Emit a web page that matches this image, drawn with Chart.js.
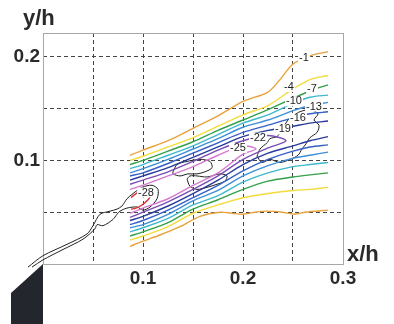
<!DOCTYPE html>
<html>
<head>
<meta charset="utf-8">
<script src="https://cdn.jsdelivr.net/npm/chart.js@4.4.1/dist/chart.umd.min.js"></script>
<style>
  html, body { margin: 0; padding: 0; background: #fff; }
  #wrap { width: 394px; height: 324px; }
</style>
</head>
<body>
<div id="wrap"><canvas id="c" width="394" height="324"></canvas></div>
<script>
// Contour lines of a jet field, x/h vs y/h. Levels -1 ... -28 (step 3).

// ---- Data ---------------------------------------------------------------

const XS = [0.087, 0.100, 0.125, 0.150, 0.175, 0.200, 0.225, 0.250, 0.267, 0.285];

// upper branch of each level, one value per XS station
const UP_4  = [0.100, 0.104, 0.113, 0.122, 0.133, 0.144, 0.153, 0.169, 0.178, 0.182];
const UP_7  = [0.096, 0.100, 0.109, 0.118, 0.129, 0.139, 0.149, 0.160, 0.167, 0.173];
const UP_10 = [0.092, 0.096, 0.105, 0.114, 0.125, 0.136, 0.144, 0.155, 0.161, 0.163];
const UP_13 = [0.088, 0.092, 0.101, 0.111, 0.121, 0.132, 0.139, 0.148, 0.153, 0.156];
const UP_16 = [0.085, 0.088, 0.097, 0.107, 0.117, 0.127, 0.134, 0.141, 0.145, 0.147];
const UP_19 = [0.081, 0.085, 0.093, 0.103, 0.113, 0.123, 0.129, 0.133, 0.136, 0.138];

// lower branch
const LO_4  = [0.023, 0.027, 0.036, 0.049, 0.057, 0.064, 0.068, 0.071, 0.072, 0.074];
const LO_7  = [0.027, 0.031, 0.040, 0.053, 0.062, 0.072, 0.080, 0.084, 0.086, 0.088];
const LO_10 = [0.031, 0.035, 0.044, 0.057, 0.066, 0.079, 0.088, 0.094, 0.096, 0.098];
const LO_13 = [0.035, 0.038, 0.048, 0.061, 0.071, 0.085, 0.095, 0.102, 0.105, 0.108];
const LO_16 = [0.038, 0.042, 0.052, 0.064, 0.076, 0.090, 0.101, 0.109, 0.113, 0.115];
const LO_19 = [0.042, 0.046, 0.056, 0.068, 0.081, 0.096, 0.107, 0.114, 0.119, 0.123];

// level -1 (orange), own stations
const L1_UP_X = [0.087, 0.100, 0.125, 0.150, 0.175, 0.200, 0.225, 0.237, 0.250, 0.267, 0.285];
const L1_UP_Y = [0.105, 0.110, 0.119, 0.131, 0.143, 0.157, 0.166, 0.178, 0.193, 0.201, 0.205];
const L1_LO_X = [0.087, 0.100, 0.117, 0.137, 0.157, 0.177, 0.189, 0.200, 0.212, 0.224, 0.239, 0.252, 0.262, 0.285];
const L1_LO_Y = [0.017, 0.022, 0.028, 0.036, 0.046, 0.050, 0.049, 0.048, 0.050, 0.051, 0.050, 0.048, 0.050, 0.052];

// closed levels
const L22_X = [0.087, 0.100, 0.125, 0.150, 0.175, 0.200, 0.225, 0.243, 0.225, 0.200, 0.175, 0.150, 0.125, 0.100, 0.087];
const L22_Y = [0.077, 0.081, 0.089, 0.099, 0.110, 0.119, 0.124, 0.119, 0.112, 0.101, 0.085, 0.072, 0.060, 0.050, 0.045];
const L25_X = [0.087, 0.100, 0.125, 0.150, 0.175, 0.200, 0.213, 0.200, 0.175, 0.150, 0.125, 0.100, 0.087];
const L25_Y = [0.072, 0.076, 0.085, 0.094, 0.105, 0.114, 0.111, 0.106, 0.088, 0.076, 0.063, 0.054, 0.049];
const L28_X = [0.088, 0.093, 0.099, 0.105, 0.108, 0.105, 0.099, 0.093, 0.088];
const L28_Y = [0.064, 0.068, 0.071, 0.071, 0.067, 0.062, 0.057, 0.054, 0.053];

// black outline (jet boundary and small islands)
const JET_X = [-0.015, 0.000, 0.024, 0.044, 0.050, 0.057, 0.067, 0.074, 0.079, 0.084, 0.090, 0.099, 0.109, 0.115,
               0.114, 0.107, 0.100, 0.094, 0.084, 0.077, 0.074, 0.070, 0.060, 0.054, 0.052, 0.040, 0.020, 0.000, -0.011];
const JET_Y = [-0.003, 0.008, 0.019, 0.029, 0.037, 0.048, 0.051, 0.053, 0.056, 0.063, 0.068, 0.074, 0.076, 0.072,
               0.063, 0.055, 0.052, 0.055, 0.054, 0.051, 0.048, 0.043, 0.037, 0.038, 0.034, 0.024, 0.014, 0.004, -0.003];
const ISLE_A_X = [0.130, 0.134, 0.144, 0.157, 0.167, 0.169, 0.162, 0.154, 0.145, 0.137, 0.130, 0.130];
const ISLE_A_Y = [0.089, 0.096, 0.099, 0.101, 0.099, 0.093, 0.089, 0.087, 0.087, 0.085, 0.087, 0.089];
const ISLE_B_X = [0.144, 0.147, 0.154, 0.164, 0.177, 0.184, 0.182, 0.174, 0.164, 0.154, 0.147, 0.144];
const ISLE_B_Y = [0.082, 0.085, 0.085, 0.084, 0.087, 0.085, 0.080, 0.077, 0.074, 0.072, 0.075, 0.082];
const ISLE_C_X = [0.214, 0.217, 0.224, 0.227, 0.234, 0.238, 0.241, 0.245, 0.250, 0.257, 0.267, 0.275,
                  0.271, 0.276, 0.274, 0.267, 0.263, 0.259, 0.255, 0.247, 0.237, 0.227, 0.219, 0.214];
const ISLE_C_Y = [0.104, 0.111, 0.117, 0.121, 0.123, 0.128, 0.133, 0.139, 0.143, 0.147, 0.149, 0.145,
                  0.139, 0.134, 0.127, 0.122, 0.116, 0.111, 0.105, 0.101, 0.098, 0.101, 0.098, 0.104];

// nozzle wedge below the origin
const WEDGE_X = [0, -0.032, -0.032, 0];
const WEDGE_Y = [0, -0.028, -0.058, -0.058];

// inline contour labels
const LABEL_TEXT = ["-1", "-4", "-7", "-10", "-13", "-16", "-19", "-22", "-25", "-28"];
const LABEL_X = [0.261, 0.246, 0.269, 0.251, 0.271, 0.255, 0.240, 0.215, 0.195, 0.103];
const LABEL_Y = [0.199, 0.171, 0.169, 0.157, 0.152, 0.141, 0.130, 0.122, 0.112, 0.069];

const X_LABELS = [0.1, 0.2, 0.3];
const Y_LABELS = [0.1, 0.2];

// ---- Styles -------------------------------------------------------------

const COL = {
  l1: "#e9a23b", l4: "#f2dc3c", l7: "#35a04a", l10: "#3fb8cc", l13: "#3d8fd8",
  l16: "#3560c8", l19: "#283a9c", l22: "#7a4fb5", l25: "#d57ad0", l28: "#e0303a",
};
const FONT = "'Liberation Sans', Arial, sans-serif";
const TEXT = "#2a2a2a";

// ---- Helpers ------------------------------------------------------------

function pts(xs, ys) {
  return xs.map((x, i) => ({ x, y: ys[i] }));
}

function curve(xs, ys, color, width = 1.4, clip = undefined) {
  return {
    data: pts(xs, ys),
    borderColor: color,
    borderWidth: width,
    pointRadius: 0,
    showLine: true,
    fill: false,
    tension: 0.3,
    clip,
  };
}

function onStep(v) {
  return Math.abs(v * 20 - Math.round(v * 20)) < 1e-6;
}

function near(v, list) {
  return list.some((t) => Math.abs(v - t) < 1e-6);
}

const datasets = [
  curve(L1_UP_X, L1_UP_Y, COL.l1),
  curve(L1_LO_X, L1_LO_Y, COL.l1),
  curve(XS, UP_4, COL.l4), curve(XS, LO_4, COL.l4),
  curve(XS, UP_7, COL.l7), curve(XS, LO_7, COL.l7),
  curve(XS, UP_10, COL.l10), curve(XS, LO_10, COL.l10),
  curve(XS, UP_13, COL.l13), curve(XS, LO_13, COL.l13),
  curve(XS, UP_16, COL.l16), curve(XS, LO_16, COL.l16),
  curve(XS, UP_19, COL.l19), curve(XS, LO_19, COL.l19),
  curve(L22_X, L22_Y, COL.l22),
  curve(L25_X, L25_Y, COL.l25),
  curve(L28_X, L28_Y, COL.l28),
  curve(JET_X, JET_Y, "#222", 1, false),
  curve(ISLE_A_X, ISLE_A_Y, "#222", 1),
  curve(ISLE_B_X, ISLE_B_Y, "#222", 1),
  curve(ISLE_C_X, ISLE_C_Y, "#222", 1),
];

// ---- Extras: frame, wedge, contour labels, axis titles -------------------

const extras = {
  id: "extras",
  beforeDatasetsDraw(chart) {
    const { ctx, chartArea: a, scales: { x, y } } = chart;
    ctx.save();
    ctx.strokeStyle = "#a8a8a8";
    ctx.lineWidth = 1;
    ctx.strokeRect(a.left + 0.5, a.top + 0.5, a.right - a.left, a.bottom - a.top);
    ctx.fillStyle = "#23272d";
    ctx.beginPath();
    WEDGE_X.forEach((v, i) => {
      const px = x.getPixelForValue(v), py = y.getPixelForValue(WEDGE_Y[i]);
      i ? ctx.lineTo(px, py) : ctx.moveTo(px, py);
    });
    ctx.closePath();
    ctx.fill();
    ctx.restore();
  },
  afterDatasetsDraw(chart) {
    const { ctx, scales: { x, y } } = chart;
    ctx.save();
    ctx.font = `11px ${FONT}`;
    ctx.textAlign = "center";
    ctx.textBaseline = "middle";
    LABEL_TEXT.forEach((t, i) => {
      const px = x.getPixelForValue(LABEL_X[i]);
      const py = y.getPixelForValue(LABEL_Y[i]);
      const w = ctx.measureText(t).width + 2;
      ctx.fillStyle = "#fff";
      ctx.fillRect(px - w / 2, py - 5, w, 10);
      ctx.fillStyle = "#222";
      ctx.fillText(t, px, py);
    });
    ctx.fillStyle = TEXT;
    ctx.font = `bold 22px ${FONT}`;
    ctx.textAlign = "left";
    ctx.textBaseline = "alphabetic";
    ctx.fillText("y/h", 23, 25);
    ctx.fillText("x/h", 347, 261);
    ctx.restore();
  },
};

// ---- Chart --------------------------------------------------------------

new Chart(document.getElementById("c"), {
  type: "scatter",
  data: { datasets },
  plugins: [extras],
  options: {
    responsive: false,
    animation: false,
    layout: { padding: { left: 0, right: 51, top: 33, bottom: 0 } },
    plugins: { legend: { display: false }, tooltip: { enabled: false } },
    scales: {
      x: {
        type: "linear",
        min: 0,
        max: 0.3,
        afterFit: (s) => { s.height = 60; },
        border: { display: false, dash: [4, 3] },
        grid: {
          drawTicks: false,
          lineWidth: 1,
          color: (c) => {
            const v = c.tick ? c.tick.value : 0;
            return v < 1e-6 || v > 0.3 - 1e-6 || !onStep(v) ? "rgba(0,0,0,0)" : "#444";
          },
        },
        ticks: {
          stepSize: 0.05,
          autoSkip: false,
          maxRotation: 0,
          padding: 3,
          color: TEXT,
          font: { family: FONT, size: 19, weight: "bold" },
          callback: (v) => (near(v, X_LABELS) ? v.toFixed(1) : ""),
        },
      },
      y: {
        type: "linear",
        min: 0,
        max: 0.223,
        afterFit: (s) => { s.width = 43; },
        border: { display: false, dash: [4, 3] },
        grid: {
          drawTicks: false,
          lineWidth: 1,
          color: (c) => {
            const v = c.tick ? c.tick.value : 0;
            return v < 1e-6 || !onStep(v) ? "rgba(0,0,0,0)" : "#444";
          },
        },
        ticks: {
          stepSize: 0.05,
          autoSkip: false,
          padding: 3,
          color: TEXT,
          font: { family: FONT, size: 19, weight: "bold" },
          callback: (v) => (near(v, Y_LABELS) ? v.toFixed(1) : ""),
        },
      },
    },
  },
});
</script>
</body>
</html>
